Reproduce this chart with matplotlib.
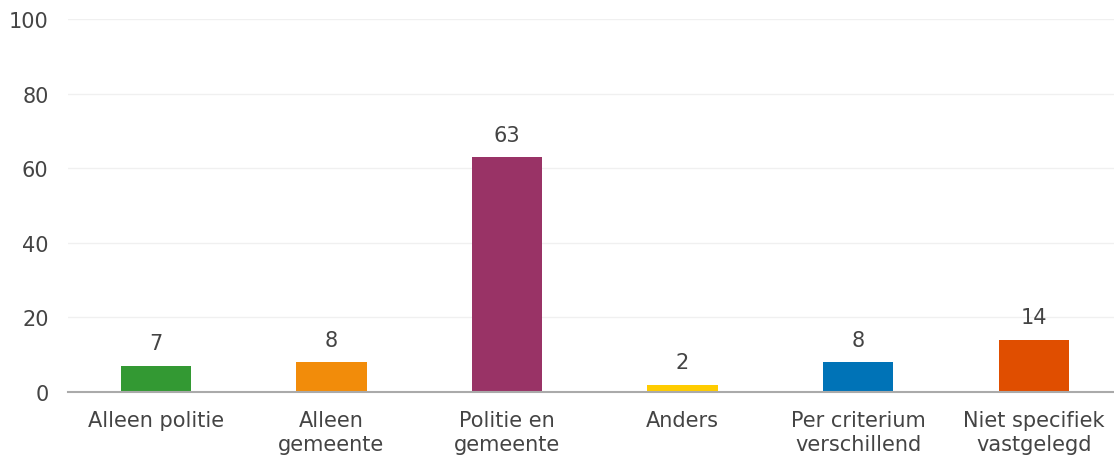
import matplotlib
matplotlib.use("Agg")
import matplotlib.pyplot as plt

# Data
categories = ["Alleen politie", "Alleen\ngemeente", "Politie en\ngemeente",
              "Anders", "Per criterium\nverschillend", "Niet specifiek\nvastgelegd"]
values = [7, 8, 63, 2, 8, 14]
colors = ["#339933", "#f28c0a", "#993366", "#ffcc00", "#0073b7", "#e04e00"]
yticks = [0, 20, 40, 60, 80, 100]

text_color = "#444444"
fs = 15
plt.rcParams["font.family"] = ["DejaVu Sans"]

W, H = 1114, 460
fig = plt.figure(figsize=(W / 100, H / 100), dpi=100)
ax = fig.add_axes([68 / W, (H - 393) / H, (W - 68) / W, 373 / H])

x = list(range(len(categories)))
ax.bar(x, values, width=0.40, color=colors, zorder=3)

for xi, v in zip(x, values):
    ax.annotate(str(v), (xi, v), xytext=(0, 9), textcoords="offset points",
                ha="center", va="bottom", fontsize=fs, color=text_color)

ax.set_ylim(0, 100)
ax.set_xlim(-0.5, 5.457)
ax.set_yticks(yticks)
ax.set_xticks(x)
ax.set_xticklabels(categories, fontsize=fs, color=text_color, linespacing=1.25)
ax.tick_params(axis="y", labelsize=fs, labelcolor=text_color, length=0, pad=14)
ax.tick_params(axis="x", length=0, pad=13)

ax.grid(axis="y", color="#f0f0f0", linewidth=1, zorder=0)
for side in ["top", "right", "left"]:
    ax.spines[side].set_visible(False)
ax.spines["bottom"].set_color("#aaaaaa")
ax.spines["bottom"].set_linewidth(1.5)
ax.spines["bottom"].set_zorder(4)

fig.savefig("out.png", dpi=100)
